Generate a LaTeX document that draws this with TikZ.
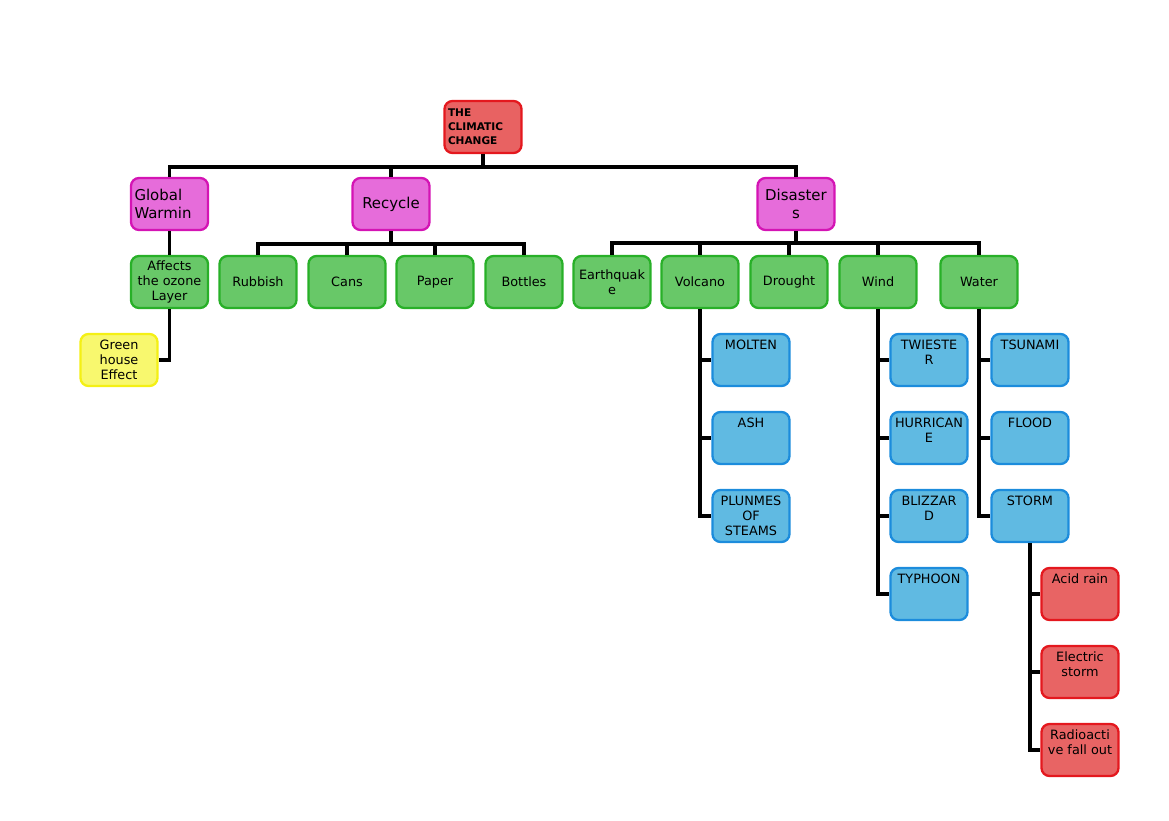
\documentclass[tikz,border=0pt]{standalone}
\usepackage{fontspec}
\setmainfont{DejaVu Sans}
\usetikzlibrary{positioning}

\definecolor{rootfill}{RGB}{232,98,98}
\definecolor{rootline}{RGB}{228,24,30}
\definecolor{mainfill}{RGB}{230,108,218}
\definecolor{mainline}{RGB}{212,20,180}
\definecolor{subfill}{RGB}{104,200,104}
\definecolor{subline}{RGB}{40,176,40}
\definecolor{leaffill}{RGB}{96,186,226}
\definecolor{leafline}{RGB}{28,140,220}
\definecolor{stormfill}{RGB}{232,100,100}
\definecolor{stormline}{RGB}{228,24,30}
\definecolor{greenfill}{RGB}{248,248,110}
\definecolor{greenline}{RGB}{244,240,20}

\begin{document}
\begin{tikzpicture}[x=0.2mm, y=-0.2mm,
            box/.style={rectangle, rounded corners=1.6mm, line width=1.3pt,
                minimum width=1.54cm, minimum height=1.04cm, inner sep=1pt,
                align=center, font=\fontsize{7.3}{8.6}\selectfont},
            root node/.style={box, draw=rootline, fill=rootfill, text width=1.4cm,
                align=left, font=\bfseries\fontsize{6}{8}\selectfont},
            main node/.style={box, draw=mainline, fill=mainfill,
                font=\fontsize{8.5}{10.6}\selectfont},
            sub node/.style={box, draw=subline, fill=subfill},
            top text/.style={align=none,
                execute at begin node={\begin{minipage}[c][0.8cm][t]{1.45cm}\centering},
                execute at end node={\end{minipage}}},
            leaf node/.style={box, top text, draw=leafline, fill=leaffill},
            storm node/.style={box, top text, draw=stormline, fill=stormfill},
            effect node/.style={box, draw=greenline, fill=greenfill},
            link/.style={line width=2.2pt}]

            \useasboundingbox (0,0) rectangle (1169,821);

            % top of the tree
            \node[root node] (root) at (483,127) {THE\\CLIMATIC\\CHANGE};
            \node[main node, text width=1.4cm, align=left] (warming) at (169.5,204) {Global\\Warmin};
            \node[main node] (recycle) at (391,204) {Recycle};
            \node[main node] (disasters) at (796,204) {Disaster\\s};

            % second row
            \node[sub node] (ozone) at (169.5,282) {Affects\\the ozone\\Layer};
            \node[sub node] (rubbish) at (258,282) {Rubbish};
            \node[sub node] (cans) at (347,282) {Cans};
            \node[sub node] (paper) at (435,282) {Paper};
            \node[sub node] (bottles) at (524,282) {Bottles};
            \node[sub node] (quake) at (612,282) {Earthquak\\e};
            \node[sub node] (volcano) at (700,282) {Volcano};
            \node[sub node] (drought) at (789,282) {Drought};
            \node[sub node] (wind) at (878,282) {Wind};
            \node[sub node] (water) at (979,282) {Water};

            \node[effect node] (greenhouse) at (119,360) {Green\\house\\Effect};

            % volcano
            \node[leaf node] (molten) at (751,360) {MOLTEN};
            \node[leaf node] (ash) at (751,438) {ASH};
            \node[leaf node] (plumes) at (751,516) {PLUNMES\\OF\\STEAMS};
            % wind
            \node[leaf node] (twister) at (929,360) {TWIESTE\\R};
            \node[leaf node] (hurricane) at (929,438) {HURRICAN\\E};
            \node[leaf node] (blizzard) at (929,516) {BLIZZAR\\D};
            \node[leaf node] (typhoon) at (929,594) {TYPHOON};
            % water
            \node[leaf node] (tsunami) at (1030,360) {TSUNAMI};
            \node[leaf node] (flood) at (1030,438) {FLOOD};
            \node[leaf node] (storm) at (1030,516) {STORM};
            % storm
            \node[storm node] (acid) at (1080,594) {Acid rain};
            \node[storm node] (electric) at (1080,672) {Electric\\storm};
            \node[storm node] (fallout) at (1080,750) {Radioacti\\ve fall out};

            % connectors
            \foreach \c in {warming,recycle,disasters}
                \draw[link] (root.south) -- ++(0,13) -| (\c.north);
            \draw[link] (warming.south) -- (ozone.north);
            \draw[link] (ozone.south) |- (greenhouse.east);
            \foreach \c in {rubbish,cans,paper,bottles}
                \draw[link] (recycle.south) -- ++(0,13) -| (\c.north);
            \foreach \c in {quake,volcano,drought,wind,water}
                \draw[link] (disasters.south) -- ++(0,12) -| (\c.north);
            \foreach \c in {molten,ash,plumes}
                \draw[link] (volcano.south) |- (\c.west);
            \foreach \c in {twister,hurricane,blizzard,typhoon}
                \draw[link] (wind.south) |- (\c.west);
            \foreach \c in {tsunami,flood,storm}
                \draw[link] (water.south) |- (\c.west);
            \foreach \c in {acid,electric,fallout}
                \draw[link] (storm.south) |- (\c.west);

\end{tikzpicture}
\end{document}
